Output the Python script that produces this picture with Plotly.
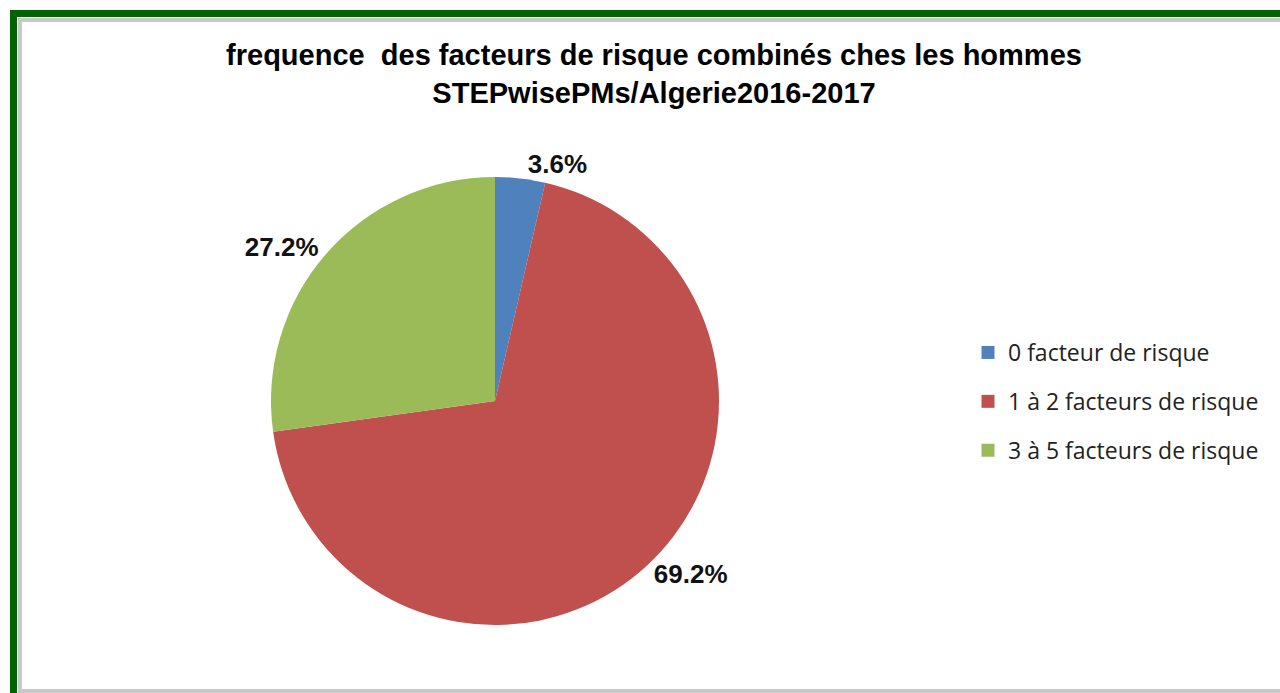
import plotly.graph_objects as go

categories = ["0 facteur de risque", "1 à 2 facteurs de risque", "3 à 5 facteurs de risque"]
values = [3.6, 69.2, 27.2]
colors = ["#4F81BD", "#C0504D", "#9BBB59"]
title_lines = ["frequence  des facteurs de risque combinés ches les hommes",
               "STEPwisePMs/Algerie2016-2017"]

W, H = 1280, 693


def px(x):
    return x / W


def py(y):
    return 1 - y / H


fig = go.Figure()
fig.add_trace(go.Pie(
    labels=categories, values=values, sort=False, direction="clockwise", rotation=0,
    marker=dict(colors=colors, line=dict(width=0)),
    textposition="outside", texttemplate="%{value:.1f}%",
    textfont=dict(family="Liberation Sans", size=26, color="#111111", weight="bold"),
    showlegend=False, automargin=False,
    domain=dict(x=[px(271), px(719)], y=[py(625), py(177)]),
    hoverinfo="label+value",
))

for name, c in zip(categories, colors):
    fig.add_trace(go.Scatter(
        x=[None], y=[None], mode="markers", name=name, legendgroup=name,
        marker=dict(symbol="square", size=13, color=c), showlegend=True,
    ))

shapes = [
    # green outer frame
    dict(type="rect", xref="paper", yref="paper", x0=px(10), x1=px(17), y0=py(693), y1=py(10),
         fillcolor="#006400", line=dict(width=0)),
    dict(type="rect", xref="paper", yref="paper", x0=px(10), x1=px(1280), y0=py(17), y1=py(10),
         fillcolor="#006400", line=dict(width=0)),
    # grey inner frame
    dict(type="rect", xref="paper", yref="paper", x0=px(18), x1=px(22), y0=py(693), y1=py(18),
         fillcolor="#c8c8c8", line=dict(width=0)),
    dict(type="rect", xref="paper", yref="paper", x0=px(18), x1=px(1280), y0=py(22), y1=py(18),
         fillcolor="#c8c8c8", line=dict(width=0)),
    dict(type="rect", xref="paper", yref="paper", x0=px(18), x1=px(1280), y0=py(693), y1=py(689),
         fillcolor="#c8c8c8", line=dict(width=0)),
]

fig.update_layout(
    width=W, height=H,
    margin=dict(l=0, r=0, t=0, b=0),
    paper_bgcolor="white", plot_bgcolor="white",
    title=dict(
        text="<br>".join(f"<b>{t}</b>" for t in title_lines),
        font=dict(family="Liberation Sans", size=29, color="#000000"),
        x=px(654), xanchor="center", xref="container",
        y=py(65), yanchor="top", yref="container",
    ),
    xaxis=dict(visible=False), yaxis=dict(visible=False),
    legend=dict(
        x=px(968), y=py(331), xanchor="left", yanchor="top",
        font=dict(family="Open Sans", size=23, color="#222222"),
        tracegroupgap=16, bgcolor="rgba(0,0,0,0)",
    ),
    shapes=shapes,
)

fig.write_html("out.html", config={"displayModeBar": False},
               post_script="document.body.style.margin='0';document.body.style.overflow='hidden';")
